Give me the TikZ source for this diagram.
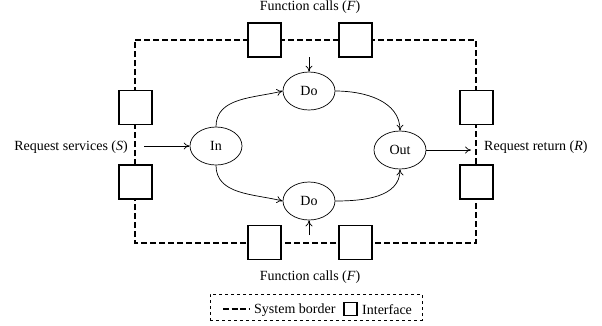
\documentclass[tikz,border=0pt]{standalone}
\usepackage{fontspec}
\setmainfont{Liberation Serif}
\usetikzlibrary{arrows.meta,shapes.geometric}
\begin{document}
\begin{tikzpicture}[x=1pt,y=-1pt,
  font=\fontsize{14}{16}\selectfont,
  border/.style={line width=1.5pt, dash pattern=on 6pt off 3pt},
  iface/.style={draw, line width=1.4pt, fill=white, minimum width=33pt, minimum height=34pt, inner sep=0pt},
  proc/.style={draw, ellipse, line width=0.7pt, minimum width=52pt, minimum height=38pt, inner sep=0pt},
  flow/.style={-{To[length=6pt,width=7pt]}, line width=0.7pt},
  lbl/.style={inner sep=0pt}]
\useasboundingbox (0,0) rectangle (602,325);

% system border
\coordinate (c1) at (135,40);
\coordinate (c2) at (476,40);
\coordinate (c3) at (476,243);
\coordinate (c4) at (135,243);
\draw[border] (c1) -- (c2) -- (c3) -- (c4) -- cycle;

% interfaces on the border
\node[iface] (t1) at (264.5,40) {};
\node[iface] (t2) at (355.5,40) {};
\node[iface] (l1) at (135.5,107.5) {};
\node[iface] (l2) at (135.5,182) {};
\node[iface] (r1) at (476.5,107.5) {};
\node[iface] (r2) at (476.5,182) {};
\node[iface] (b1) at (264.5,242.5) {};
\node[iface] (b2) at (355.5,242.5) {};

% processes
\node[proc] (in)   at (216,146) {In};
\node[proc] (dot)  at (309,91)  {Do};
\node[proc] (dob)  at (309,201) {Do};
\node[proc] (out)  at (400,150) {Out};

% labels
\node[lbl] (ft) at (310,7) {Function calls (\textit{F})};
\node[lbl] (fb) at (310,277) {Function calls (\textit{F})};
\node[lbl, anchor=east] (rs) at (128,147) {Request services (\textit{S})};
\node[lbl, anchor=west] (rr) at (484,147) {Request return (\textit{R})};

% flows
\coordinate (sIn) at (144,146);
\coordinate (eOut) at (471,150);
\coordinate (fTop) at (309,57);
\coordinate (fBot) at (309,235);
\draw[flow] (sIn) -- (in.west);
\draw[flow] (out.east) -- (eOut);
\draw[flow] (fTop) -- (dot.north);
\draw[flow] (fBot) -- (dob.south);
\draw[flow] (in.north) to[out=90,in=194] (dot.west);
\draw[flow] (dot.east) to[out=0,in=90] (out.north);
\draw[flow] (in.south) to[out=-90,in=166] (dob.west);
\draw[flow] (dob.east) to[out=0,in=-90] (out.south);

% legend
\node[draw, dashed, line width=0.6pt, minimum width=212pt, minimum height=26pt, inner sep=0pt] (leg) at (316,307) {};
\coordinate (ls1) at (223,309);
\coordinate (ls2) at (250,309);
\draw[line width=1.5pt, dash pattern=on 6pt off 2.5pt] (ls1) -- (ls2);
\node[lbl, anchor=west] (lsb) at (254,310) {System border};
\node[draw, line width=1.5pt, minimum width=13pt, minimum height=13pt, inner sep=0pt] (lbx) at (350.5,309) {};
\node[lbl, anchor=west] (lif) at (362,310) {Interface};
\end{tikzpicture}
\end{document}
